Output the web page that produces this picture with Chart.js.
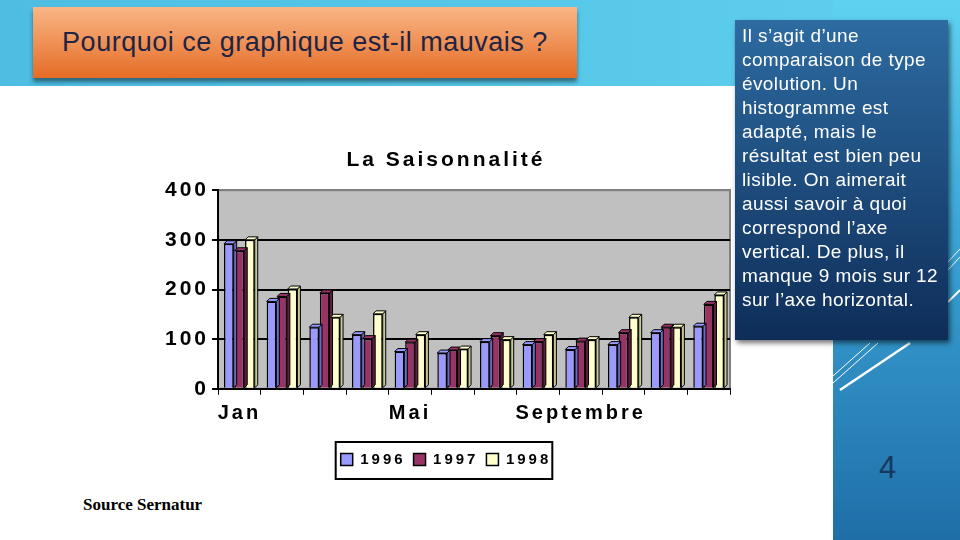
<!DOCTYPE html>
<html>
<head>
<meta charset="utf-8">
<script src="https://cdn.jsdelivr.net/npm/chart.js@4"></script>
<style>
  body { margin: 0; width: 960px; height: 540px; overflow: hidden; position: relative; background: #fff; font-family: Arial, "Liberation Sans", sans-serif; }
  .band { position: absolute; left: 0; top: 0; width: 960px; height: 86px; background: linear-gradient(90deg, #4dbde2, #60d0ef); }
  .strip { position: absolute; left: 833px; top: 0; width: 127px; height: 540px; background: linear-gradient(180deg, #5fd2f1 0%, #3aa2d4 45%, #1f6ea8 100%); }
  .titre { position: absolute; left: 33px; top: 7px; width: 544px; height: 71px; background: linear-gradient(180deg, #f9b686, #e56c26); box-shadow: 0 4px 4px rgba(0,0,0,0.45); color: #1d2444; font-size: 27px; line-height: 71px; text-align: center; letter-spacing: 0.5px; }
  .note { position: absolute; left: 735px; top: 20px; width: 206px; height: 316px; padding: 4px 0 0 7px; background: linear-gradient(180deg, #2d6ba1, #0e2d58); box-shadow: 2px 3px 5px rgba(0,0,0,0.55); color: #fff; font-size: 19px; line-height: 24px; letter-spacing: 0.4px; white-space: nowrap; }
  .num { position: absolute; left: 879px; top: 450px; font-size: 31px; color: #17375e; }
  .source { position: absolute; left: 83px; top: 495px; font-family: "Liberation Serif", "DejaVu Serif", serif; font-weight: bold; font-size: 17px; color: #000; }
  #wrap { position: absolute; left: 154px; top: 138px; width: 580px; height: 347px; }
  svg.deco { position: absolute; left: 0; top: 0; }
</style>
</head>
<body>
<div class="band"></div>
<div class="strip"></div>
<svg class="deco" width="960" height="540">
  <g stroke="#fff" fill="none">
    <line x1="840" y1="390" x2="910" y2="343" stroke-width="2.5"/>
    <line x1="833" y1="383" x2="878" y2="343" stroke-width="1"/>
    <line x1="833" y1="376" x2="870" y2="343" stroke-width="1"/>
    <line x1="948" y1="270" x2="960" y2="257" stroke-width="1"/>
    <line x1="948" y1="262" x2="960" y2="249" stroke-width="1"/>
    <line x1="948" y1="302" x2="960" y2="290" stroke-width="2"/>
  </g>
</svg>
<div class="titre">Pourquoi ce graphique est-il mauvais ?</div>
<div id="wrap"><canvas id="grafik"></canvas></div>
<div class="note">Il s’agit d’une<br>comparaison de type<br>évolution. Un<br>histogramme est<br>adapté, mais le<br>résultat est bien peu<br>lisible. On aimerait<br>aussi savoir à quoi<br>correspond l’axe<br>vertical. De plus, il<br>manque 9 mois sur 12<br>sur l’axe horizontal.</div>
<div class="num">4</div>
<div class="source">Source Sernatur</div>

<script>
// Saisonnalité - données
const mois = ['Jan', '', '', '', 'Mai', '', '', '', 'Septembre', '', '', ''];
const annees = ['1996', '1997', '1998'];
const val1996 = [292, 176, 124, 109, 75, 72, 95, 89, 79, 89, 113, 126];
const val1997 = [278, 186, 193, 101, 94, 78, 107, 95, 96, 113, 124, 170];
const val1998 = [300, 201, 144, 151, 109, 80, 99, 109, 99, 144, 124, 189];
const yTicks = [0, 100, 200, 300, 400];

const couleurs = ['#9999ff', '#993366', '#ffffcc'];
const faces = ['#6b6bc0', '#5e1f40', '#c8c89c'];

// espacement des lettres façon Excel
const espacement = {
    id: 'espacement',
    beforeLayout(chart) { chart.ctx.letterSpacing = '3px'; },
    beforeDraw(chart) { chart.ctx.letterSpacing = '3px'; }
};

// fond gris de la zone de tracé
const fondGris = {
    id: 'fondGris',
    beforeDraw(chart) {
        const a = chart.chartArea, ctx = chart.ctx;
        ctx.save();
        ctx.fillStyle = '#c0c0c0';
        ctx.fillRect(a.left, a.top, a.right - a.left, a.bottom - a.top);
        ctx.strokeStyle = '#808080';
        ctx.lineWidth = 2;
        ctx.strokeRect(a.left, a.top, a.right - a.left, a.bottom - a.top);
        ctx.restore();
    }
};

// petit effet 3D sur les barres
const relief = {
    id: 'relief',
    afterDatasetsDraw(chart) {
        const ctx = chart.ctx, d = 3;
        ctx.save();
        chart.data.datasets.forEach((ds, i) => {
            chart.getDatasetMeta(i).data.forEach(bar => {
                const r = bar.x + bar.width / 2, l = bar.x - bar.width / 2;
                ctx.fillStyle = faces[i];
                ctx.strokeStyle = '#000';
                ctx.lineWidth = 1;
                ctx.beginPath();
                ctx.moveTo(r, bar.y);
                ctx.lineTo(r + d, bar.y - d);
                ctx.lineTo(r + d, bar.base - d);
                ctx.lineTo(r, bar.base);
                ctx.closePath();
                ctx.fill(); ctx.stroke();
                ctx.fillStyle = couleurs[i];
                ctx.beginPath();
                ctx.moveTo(l, bar.y);
                ctx.lineTo(l + d, bar.y - d);
                ctx.lineTo(r + d, bar.y - d);
                ctx.lineTo(r, bar.y);
                ctx.closePath();
                ctx.fill(); ctx.stroke();
            });
        });
        ctx.restore();
    }
};

// cadre autour de la légende
const cadreLegende = {
    id: 'cadreLegende',
    afterDraw(chart) {
        const lg = chart.legend;
        if (!lg || !lg.legendHitBoxes.length) return;
        const hb = lg.legendHitBoxes;
        const x0 = Math.min(...hb.map(h => h.left)) - 5;
        const x1 = Math.max(...hb.map(h => h.left + h.width)) + 1;
        const y0 = hb[0].top - 10, y1 = hb[0].top + hb[0].height + 12;
        const ctx = chart.ctx;
        ctx.save();
        ctx.strokeStyle = '#000';
        ctx.lineWidth = 2;
        ctx.strokeRect(x0, y0, x1 - x0, y1 - y0);
        ctx.restore();
    }
};

const ctx = document.getElementById('grafik').getContext('2d');
new Chart(ctx, {
    type: 'bar',
    data: {
        labels: mois,
        datasets: [val1996, val1997, val1998].map((v, i) => ({
            label: annees[i],
            data: v,
            backgroundColor: couleurs[i],
            borderColor: '#000',
            borderWidth: 1.5,
            categoryPercentage: 0.74,
            barPercentage: 0.92
        }))
    },
    options: {
        responsive: true,
        maintainAspectRatio: false,
        animation: false,
        layout: { padding: { left: 8, right: 4, top: 0, bottom: 8 } },
        plugins: {
            title: {
                display: true,
                text: 'La Saisonnalité',
                color: '#000',
                font: { family: 'Arial', size: 21, weight: 'bold' },
                padding: { top: 10, bottom: 17 }
            },
            legend: {
                position: 'bottom',
                title: { display: true, text: '', font: { size: 1 }, padding: { top: 0, bottom: 10 } },
                labels: {
                    color: '#000',
                    font: { family: 'Arial', size: 15, weight: 'bold' },
                    boxWidth: 12,
                    boxHeight: 12,
                    padding: 8
                }
            },
            tooltip: { enabled: false }
        },
        scales: {
            x: {
                grid: { display: true, drawOnChartArea: false, color: '#000', tickLength: 6, offset: true },
                border: { color: '#000', width: 2 },
                ticks: {
                    color: '#000',
                    autoSkip: false,
                    maxRotation: 0,
                    padding: 7,
                    font: { family: 'Arial', size: 20, weight: 'bold' }
                }
            },
            y: {
                min: yTicks[0],
                max: yTicks[yTicks.length - 1],
                afterBuildTicks(axis) { axis.ticks = yTicks.map(v => ({ value: v })); },
                grid: {
                    color: c => c.tick && c.tick.value === 400 ? '#808080' : '#000',
                    lineWidth: 2,
                    tickLength: 6,
                    tickColor: '#000'
                },
                border: { color: '#000', width: 2 },
                ticks: {
                    color: '#000',
                    padding: 3,
                    font: { family: 'Arial', size: 21, weight: 'bold' }
                }
            }
        }
    },
    plugins: [espacement, fondGris, relief, cadreLegende]
});
</script>
</body>
</html>
